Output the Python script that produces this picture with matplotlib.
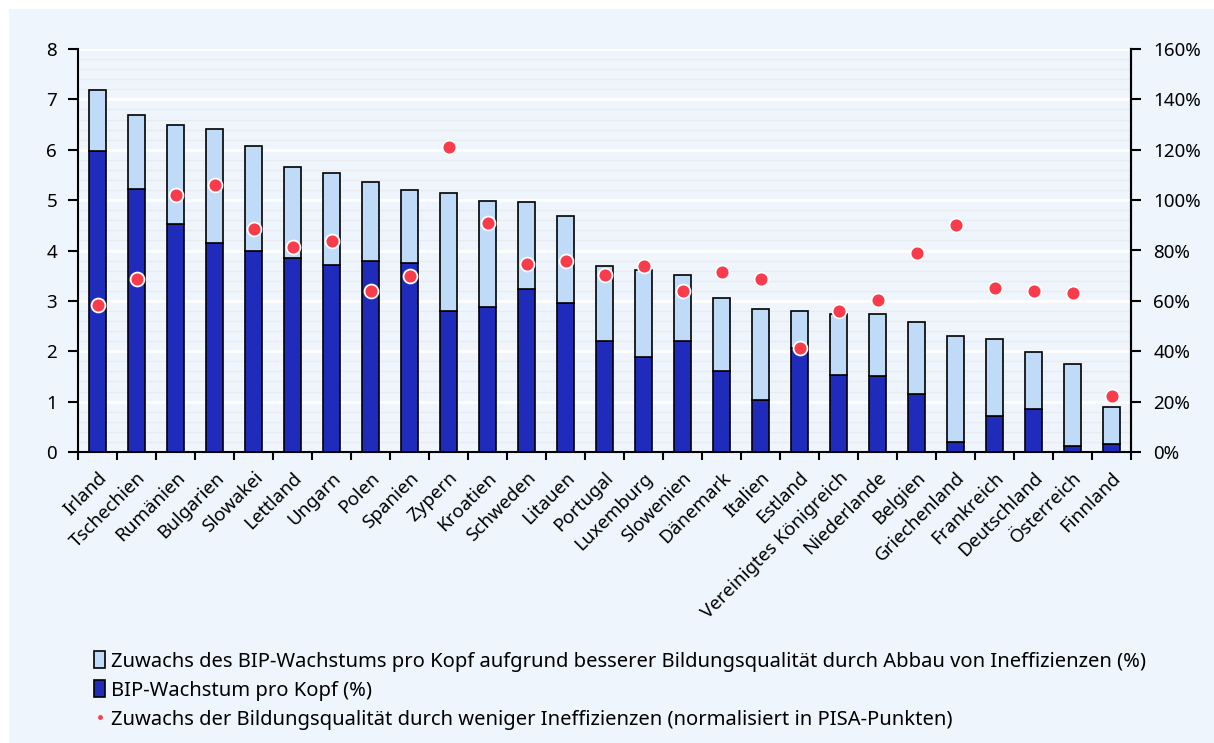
import numpy as np
import matplotlib.pyplot as plt
import matplotlib.patches as mpatches
from matplotlib.lines import Line2D
from matplotlib.ticker import MultipleLocator, FuncFormatter

plt.rcParams['font.family'] = ['Noto Sans', 'DejaVu Sans']

# Länder und Werte
laender = ['Irland', 'Tschechien', 'Rumänien', 'Bulgarien', 'Slowakei', 'Lettland',
           'Ungarn', 'Polen', 'Spanien', 'Zypern', 'Kroatien', 'Schweden', 'Litauen',
           'Portugal', 'Luxemburg', 'Slowenien', 'Dänemark', 'Italien', 'Estland',
           'Vereinigtes Königreich', 'Niederlande', 'Belgien', 'Griechenland',
           'Frankreich', 'Deutschland', 'Österreich', 'Finnland']

# BIP-Wachstum pro Kopf (%)
bip_wachstum = [5.98, 5.23, 4.53, 4.14, 4.00, 3.86, 3.72, 3.79, 3.76, 2.80, 2.87, 3.23,
                2.95, 2.21, 1.89, 2.21, 1.60, 1.03, 2.06, 1.53, 1.50, 1.15, 0.19,
                0.72, 0.85, 0.12, 0.16]

# Gesamthöhe der Säule (Wachstum + Zuwachs)
bip_gesamt = [7.19, 6.69, 6.50, 6.41, 6.08, 5.66, 5.53, 5.35, 5.20, 5.14, 4.98, 4.96,
              4.68, 3.69, 3.61, 3.51, 3.05, 2.84, 2.80, 2.74, 2.74, 2.59, 2.30,
              2.24, 1.99, 1.75, 0.90]

# Zuwachs der Bildungsqualität (normalisiert in PISA-Punkten, %)
pisa_zuwachs = [58.4, 68.8, 102.0, 106.2, 88.6, 81.2, 83.8, 64.0, 69.7, 121.0, 90.9,
                74.5, 75.8, 70.3, 73.9, 63.9, 71.6, 68.8, 41.2, 56.0, 60.3, 79.2,
                90.0, 65.2, 63.8, 63.1, 22.2]

bip_zuwachs = [g - w for g, w in zip(bip_gesamt, bip_wachstum)]

hell = '#bfdbf7'
dunkel = '#1f2bbb'
rot = '#f93b4b'
hintergrund = '#eef5fc'

fig = plt.figure(figsize=(12.14, 7.43), dpi=100, facecolor='white')
fig.patches.append(mpatches.Rectangle((9 / 1214, 0), 1, 1 - 9 / 743,
                                      transform=fig.transFigure,
                                      facecolor=hintergrund, edgecolor='none', zorder=-10))

ax = fig.add_axes([78 / 1214, 1 - 452 / 743, (1131 - 78) / 1214, (452 - 49) / 743])
ax.set_facecolor(hintergrund)

x = np.arange(len(laender))
breite = 0.42
ax.bar(x, bip_wachstum, width=breite, color=dunkel, edgecolor='black', linewidth=1.2, zorder=3)
ax.bar(x, bip_zuwachs, bottom=bip_wachstum, width=breite, color=hell,
       edgecolor='black', linewidth=1.2, zorder=3)

ax.set_xlim(-0.5, len(laender) - 0.5)
ax.set_ylim(0, 8)
ax.yaxis.set_major_locator(MultipleLocator(1))
ax.yaxis.set_minor_locator(MultipleLocator(0.2))
ax.grid(axis='y', which='minor', color='#e9ebee', linewidth=1.0, zorder=0)
ax.grid(axis='y', which='major', color='white', linewidth=2.0, zorder=1)

ax.set_xticks(x)
ax.set_xticklabels(laender, rotation=45, ha='right', rotation_mode='anchor', fontsize=13.5)
ax.set_xticks(np.arange(-0.5, len(laender)), minor=True)
ax.tick_params(axis='x', which='major', length=0, pad=12)
ax.tick_params(axis='x', which='minor', length=6, width=1.5, direction='out')
ax.tick_params(axis='y', which='major', length=7, width=1.5, labelsize=13.5, pad=8)
ax.tick_params(axis='y', which='minor', length=0)

for s in ['left', 'bottom', 'right']:
    ax.spines[s].set_linewidth(1.5)
ax.spines['top'].set_visible(False)

# zweite Achse für die Punkte
ax2 = ax.twinx()
ax2.set_ylim(0, 160)
ax2.yaxis.set_major_locator(MultipleLocator(20))
ax2.yaxis.set_major_formatter(FuncFormatter(lambda v, p: f'{v:.0f}%'))
ax2.tick_params(axis='y', length=7, width=1.5, labelsize=13.5, pad=9)
ax2.spines['right'].set_linewidth(1.5)
ax2.spines['top'].set_visible(False)
ax2.spines['left'].set_visible(False)
ax2.spines['bottom'].set_visible(False)
ax2.plot(x, pisa_zuwachs, linestyle='none', marker='o', markersize=10,
         markerfacecolor=rot, markeredgecolor='white', markeredgewidth=1.3, zorder=5)

# Legende
handles = [
    mpatches.Patch(facecolor=hell, edgecolor='black', linewidth=1.2),
    mpatches.Patch(facecolor=dunkel, edgecolor='black', linewidth=1.2),
    Line2D([], [], linestyle='none', marker='o', markersize=4,
           markerfacecolor=rot, markeredgecolor='white', markeredgewidth=0.5),
]
labels = [
    'Zuwachs des BIP-Wachstums pro Kopf aufgrund besserer Bildungsqualität durch Abbau von Ineffizienzen (%)',
    'BIP-Wachstum pro Kopf (%)',
    'Zuwachs der Bildungsqualität durch weniger Ineffizienzen (normalisiert in PISA-Punkten)',
]
fig.legend(handles, labels, loc='upper left', bbox_to_anchor=(94 / 1214, 1 - 651 / 743),
           frameon=False, fontsize=14.5, handlelength=0.55, handleheight=0.95,
           handletextpad=0.3, labelspacing=0.42, borderaxespad=0, borderpad=0)

fig.savefig('out.png', dpi=100, facecolor='white')
